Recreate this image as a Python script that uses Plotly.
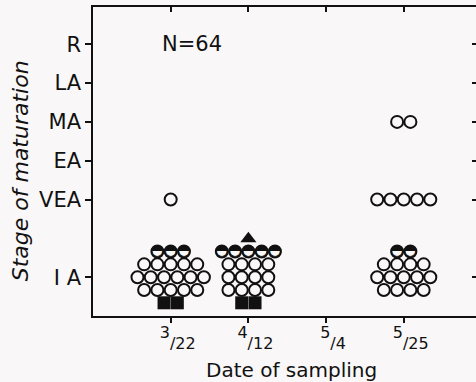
import plotly.graph_objects as go

# ---- data -------------------------------------------------------------
dates = ["3/22", "4/12", "5/4", "5/25"]
date_num = ["3", "4", "5", "5"]
date_den = ["22", "12", "4", "25"]
stages = ["I A", "VEA", "EA", "MA", "LA", "R"]
stage_levels = [0, 2, 3, 4, 5, 6]

# number of specimens per sampling date (3/22, 4/12, 5/4, 5/25)
open_ia = [16, 12, 0, 13]
half_ia = [3, 5, 0, 2]
square_ia = [2, 2, 0, 0]
triangle_ia = [0, 1, 0, 0]
open_vea = [1, 0, 0, 5]
open_ma = [0, 0, 0, 2]
n_total = 64

# how the open IA circles are stacked in rows (top to bottom) for each date
ia_rows = [[5, 6, 5], [4, 4, 4], [], [4, 5, 4]]

# ---- symbol-cluster layout (in axis units) ----------------------------
DX = 0.171
DY = 0.33
IA = stage_levels[stages.index("I A")]
VEA = stage_levels[stages.index("VEA")]
MA = stage_levels[stages.index("MA")]


def row(xc, yc, n):
    return [xc + (k - (n - 1) / 2) * DX for k in range(n)], [yc] * n


pts = {"open": ([], []), "half": ([], []), "square": ([], []), "tri": ([], [])}


def add(kind, xs, ys):
    pts[kind][0].extend(xs)
    pts[kind][1].extend(ys)


for i, d in enumerate(dates):
    rows = ia_rows[i]
    nr = len(rows)
    top = IA + (nr - 1) / 2 * DY
    bottom = IA - (nr - 1) / 2 * DY
    for j, n in enumerate(rows):
        add("open", *row(i, top - j * DY, n))
    if half_ia[i]:
        add("half", *row(i, top + DY, half_ia[i]))
    if triangle_ia[i]:
        add("tri", *row(i, top + 2 * DY, triangle_ia[i]))
    if square_ia[i]:
        add("square", *row(i, bottom - DY, square_ia[i]))
    if open_vea[i]:
        add("open", *row(i, VEA, open_vea[i]))
    if open_ma[i]:
        add("open", *row(i, MA, open_ma[i]))

INK = "#111111"
BG = "#f9f7f7"
FONT = "DejaVu Sans"
SMALL = "font-size:16px"
date_ticktext = [
    f"\u2002<sup><span style='{SMALL}'>{n}</span></sup><span style='{SMALL}'>/{d}</span>"
    for n, d in zip(date_num, date_den)
]

fig = go.Figure()
fig.add_trace(go.Scatter(
    x=pts["open"][0], y=pts["open"][1], mode="markers",
    marker=dict(symbol="circle-open", size=12, color=INK, line=dict(width=2, color=INK)),
    hoverinfo="skip", showlegend=False))
fig.add_trace(go.Scatter(
    x=pts["half"][0], y=pts["half"][1], mode="markers+text",
    marker=dict(symbol="circle-open", size=12, color=INK, line=dict(width=2, color=INK)),
    text=["\u25d3"] * len(pts["half"][0]), textposition="middle center",
    textfont=dict(family=FONT, size=15, color=INK),
    hoverinfo="skip", showlegend=False))
fig.add_trace(go.Scatter(
    x=pts["square"][0], y=pts["square"][1], mode="markers",
    marker=dict(symbol="square", size=13, color=INK, line=dict(width=0)),
    hoverinfo="skip", showlegend=False))
fig.add_trace(go.Scatter(
    x=pts["tri"][0], y=pts["tri"][1], mode="markers",
    marker=dict(symbol="triangle-up", size=14, color=INK, line=dict(width=0)),
    hoverinfo="skip", showlegend=False))
# carrier trace for the mirrored (top / right) tick axes
fig.add_trace(go.Scatter(x=[None], y=[None], xaxis="x2", yaxis="y2",
                         mode="markers", showlegend=False, hoverinfo="skip"))

fig.add_annotation(x=0.27, y=6, text=f"N={n_total}", showarrow=False,
                   font=dict(family=FONT, size=21, color=INK))
fig.add_annotation(xref="paper", yref="paper", x=-0.19, y=0.469,
                   text="Stage of maturation", textangle=-90, showarrow=False,
                   xanchor="center", yanchor="middle",
                   font=dict(family=FONT, size=22, color=INK, style="italic"))
fig.add_annotation(xref="paper", yref="paper", x=0.518, y=-0.175,
                   text="Date of sampling", showarrow=False,
                   xanchor="center", yanchor="middle",
                   font=dict(family=FONT, size=20, color=INK))

xr = [-1.0, 3.93]
yr = [-1.0, 6.96]
fig.update_layout(
    width=476, height=382,
    margin=dict(l=93, r=0, t=7, b=66),
    paper_bgcolor=BG, plot_bgcolor=BG,
    font=dict(family=FONT, color=INK),
    xaxis=dict(range=xr, tickvals=list(range(len(dates))), ticktext=date_ticktext,
               ticks="outside", ticklen=5, tickwidth=1.5, tickcolor=INK,
               showline=True, linewidth=1.5, linecolor=INK,
               showgrid=False, zeroline=False, ticklabelstandoff=-7,
               tickfont=dict(size=28, family=FONT, color=INK)),
    xaxis2=dict(range=xr, overlaying="x", side="top", anchor="y",
                tickvals=list(range(len(dates))), ticks="inside", ticklen=5,
                tickwidth=1.5, tickcolor=INK, showticklabels=False,
                showline=True, linewidth=1.5, linecolor=INK,
                showgrid=False, zeroline=False),
    yaxis=dict(range=yr, tickvals=stage_levels, ticktext=stages,
               ticks="outside", ticklen=6, tickwidth=1.5, tickcolor=INK,
               showline=True, linewidth=1.5, linecolor=INK,
               showgrid=False, zeroline=False,
               tickfont=dict(size=21, family=FONT, color=INK)),
    yaxis2=dict(range=yr, overlaying="y", side="right", anchor="x",
                tickvals=stage_levels, ticks="inside", ticklen=4,
                tickwidth=1.5, tickcolor=INK, showticklabels=False,
                showline=False, showgrid=False, zeroline=False),
)

fig.write_html("out.html")
